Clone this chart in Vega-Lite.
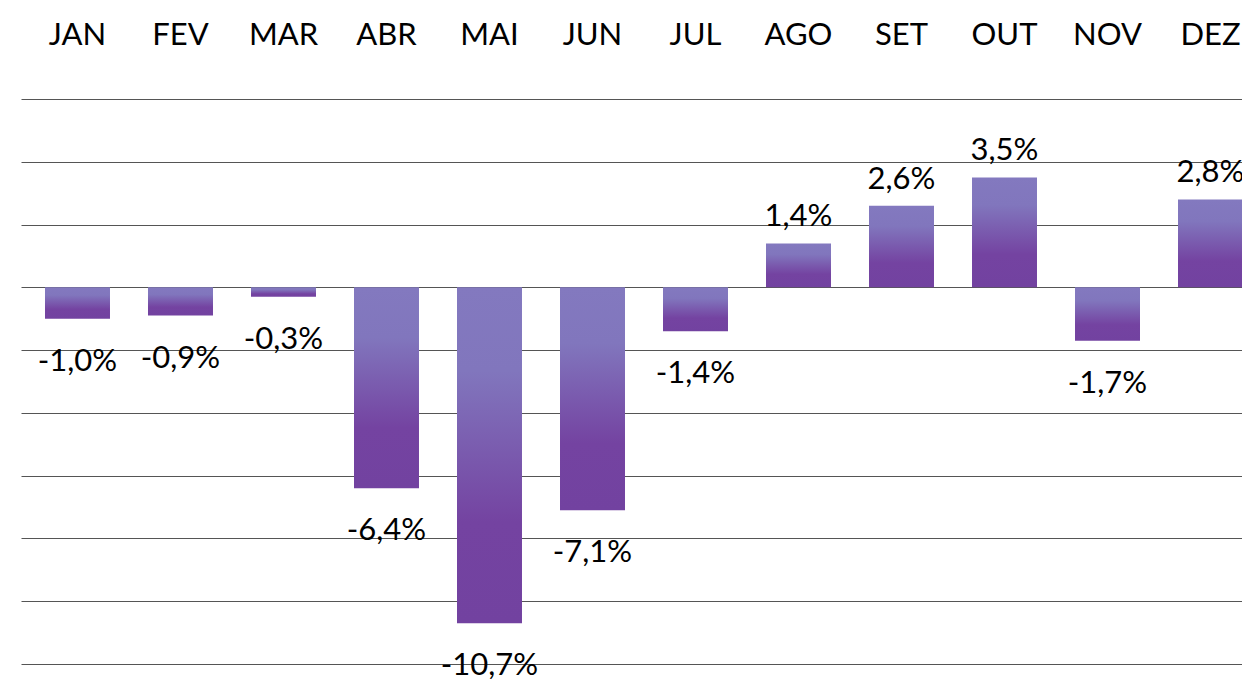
{
  "$schema": "https://vega.github.io/schema/vega-lite/v6.json",
  "autosize": {"type": "none"},
  "padding": {"left": 21, "top": 99, "right": 0, "bottom": 15},
  "width": 1246,
  "height": 565,
  "background": "#ffffff",
  "data": {
    "values": [
      {"mes": "JAN", "valor": -0.010},
      {"mes": "FEV", "valor": -0.009},
      {"mes": "MAR", "valor": -0.003},
      {"mes": "ABR", "valor": -0.064},
      {"mes": "MAI", "valor": -0.107},
      {"mes": "JUN", "valor": -0.071},
      {"mes": "JUL", "valor": -0.014},
      {"mes": "AGO", "valor": 0.014},
      {"mes": "SET", "valor": 0.026},
      {"mes": "OUT", "valor": 0.035},
      {"mes": "NOV", "valor": -0.017},
      {"mes": "DEZ", "valor": 0.028}
    ]
  },
  "encoding": {
    "x": {
      "field": "mes",
      "type": "nominal",
      "sort": null,
      "scale": {"paddingInner": 0.369, "paddingOuter": 0.233},
      "axis": {
        "orient": "top",
        "title": null,
        "ticks": false,
        "domain": false,
        "labelAngle": 0,
        "labelFont": "Lato",
        "labelFontSize": 31,
        "labelColor": "#000000",
        "labelBaseline": "alphabetic",
        "labelPadding": 55
      }
    },
    "y": {
      "field": "valor",
      "type": "quantitative",
      "scale": {"domain": [-0.12, 0.06], "nice": false, "zero": false},
      "axis": {
        "title": null,
        "labels": false,
        "ticks": false,
        "domain": false,
        "grid": true,
        "gridColor": "#555555",
        "gridWidth": 1,
        "values": [-0.12, -0.10, -0.08, -0.06, -0.04, -0.02, 0, 0.02, 0.04, 0.06]
      }
    }
  },
  "layer": [
    {
      "mark": {
        "type": "bar",
        "color": {
          "gradient": "linear",
          "x1": 0, "y1": 0, "x2": 0, "y2": 1,
          "stops": [
            {"offset": 0, "color": "#8379bf"},
            {"offset": 0.25, "color": "#8176bd"},
            {"offset": 0.7, "color": "#7443a1"},
            {"offset": 1, "color": "#7242a0"}
          ]
        }
      },
      "encoding": {"y2": {"datum": 0}}
    },
    {
      "transform": [{"filter": "datum.valor > 0"}],
      "mark": {"type": "text", "font": "Lato", "fontSize": 31, "color": "#000000", "baseline": "alphabetic", "dy": -17},
      "encoding": {"text": {"field": "valor", "type": "quantitative", "format": ".1%"}}
    },
    {
      "transform": [{"filter": "datum.valor < 0"}],
      "mark": {"type": "text", "font": "Lato", "fontSize": 31, "color": "#000000", "baseline": "top", "dy": 28},
      "encoding": {"text": {"field": "valor", "type": "quantitative", "format": ".1%"}}
    }
  ],
  "config": {
    "view": {"stroke": null},
    "locale": {"number": {"decimal": ",", "thousands": ".", "grouping": [3], "currency": ["", ""], "minus": "-"}}
  }
}
